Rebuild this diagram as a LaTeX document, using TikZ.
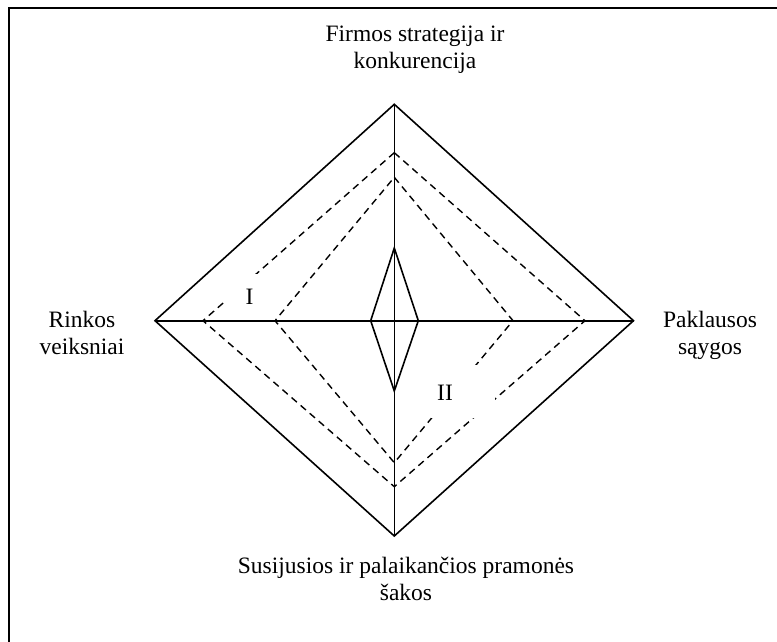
\documentclass[tikz,border=0pt]{standalone}
\usepackage{fontspec}
\setmainfont{Liberation Serif}
\begin{document}
\begin{tikzpicture}[x=1pt,y=-1pt,
  frameline/.style={line width=2pt},
  solidline/.style={line width=1.6pt, line join=miter},
  dashline/.style={line width=1.4pt, dash pattern=on 7pt off 5pt},
  lbl/.style={font=\fontsize{23.5}{27}\selectfont, align=center, inner sep=0pt, anchor=north},
  roman/.style={font=\fontsize{23.5}{27}\selectfont, inner sep=0pt},
  mask/.style={fill=white, draw=none}]
\useasboundingbox (0,0) rectangle (777,642);
% frame (only left and top edges are visible)
\draw[frameline] (9,660) -- (9,8.5) -- (790,8.5);
% key points
\coordinate (C) at (394.3,320.7);
\coordinate (T) at (394.3,104.3);
\coordinate (B) at (394.3,536);
\coordinate (L) at (155,320.7);
\coordinate (R) at (633.5,320.7);
\coordinate (oT) at (394.3,152.7);
\coordinate (oB) at (394.3,486.7);
\coordinate (oL) at (203,320.7);
\coordinate (oR) at (585,320.7);
\coordinate (iT) at (394.3,177.3);
\coordinate (iB) at (394.3,462.7);
\coordinate (iL) at (275,320.7);
\coordinate (iR) at (513,320.7);
\coordinate (sT) at (394.3,248);
\coordinate (sB) at (394.3,391);
\coordinate (sL) at (370.7,320.7);
\coordinate (sR) at (418.3,320.7);
% outer diamond
\draw[solidline] (T) -- (R) -- (B) -- (L) -- cycle;
% dashed diamonds
\draw[dashline] (oT) -- (oR) -- (oB) -- (oL) -- cycle;
\draw[dashline] (iT) -- (iR) -- (iB) -- (iL) -- cycle;
% axes
\draw[solidline] (T) -- (B);
\draw[solidline] (L) -- (R);
% small diamond
\draw[solidline] (sT) -- (sR) -- (sB) -- (sL) -- cycle;
% label masks
\fill[mask] (226,274) rectangle (275,320.1);
\fill[mask] (431,365) rectangle (495,418);
\node[roman] (labI) at (249.5,297) {I};
\node[roman] (labII) at (445,393) {II};
% axis texts
\node[lbl] (top) at (415,25.7) {Firmos strategija ir\\konkurencija};
\node[lbl] (left) at (82,310.7) {Rinkos\\veiksniai};
\node[lbl] (right) at (710,310.7) {Paklausos\\sąygos};
\node[lbl] (bottom) at (406,556.7) {Susijusios ir palaikančios pramonės\\šakos};
\end{tikzpicture}
\end{document}
